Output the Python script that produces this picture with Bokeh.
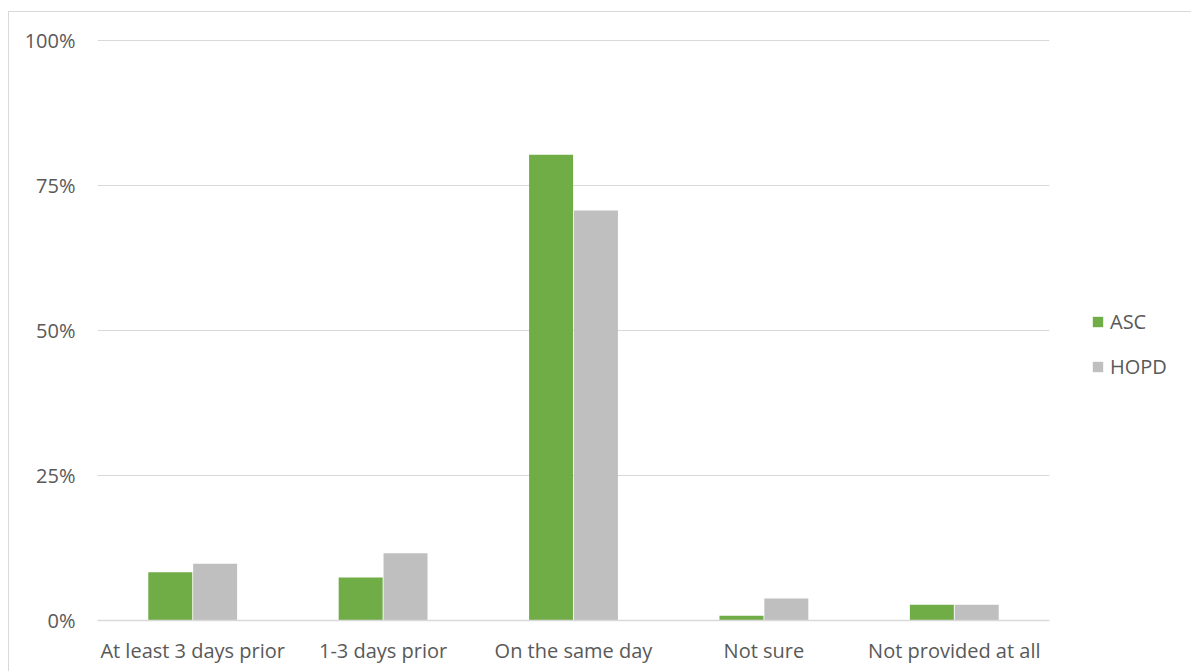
from bokeh.plotting import figure
from bokeh.models import ColumnDataSource, FactorRange, Range1d, Legend, LegendItem, FixedTicker
from bokeh.transform import dodge
from bokeh.embed import file_html
from bokeh.resources import INLINE

categories = ["At least 3 days prior", "1-3 days prior", "On the same day", "Not sure", "Not provided at all"]
asc = [8.3, 7.4, 80.3, 0.8, 2.7]
hopd = [9.8, 11.6, 70.7, 3.8, 2.7]
series_names = ["ASC", "HOPD"]
series_colors = ["#70AD47", "#BFBFBF"]
y_ticks = [0, 25, 50, 75, 100]
y_tick_labels = ["0%", "25%", "50%", "75%", "100%"]

FONT = "Open Sans"
TXT = "#595959"
GRID = "#D9D9D9"

source = ColumnDataSource(dict(cat=categories, ASC=asc, HOPD=hopd))

p = figure(
    x_range=FactorRange(factors=categories, range_padding=0),
    y_range=Range1d(0, 100.35),
    width=1183, height=660,
    frame_width=952, frame_height=582,
    min_border_left=88, min_border_top=26, min_border_bottom=51, min_border_right=143,
    output_backend="svg", toolbar_location=None,
    margin=(11, 0, 0, 8),
    styles={"border-left": "1px solid #D9D9D9", "border-top": "1px solid #D9D9D9"},
)
p.outline_line_color = None

r1 = p.vbar(x=dodge("cat", -0.1178, range=p.x_range), top="ASC", width=0.231,
            source=source, fill_color=series_colors[0], line_color=None)
r2 = p.vbar(x=dodge("cat", 0.1178, range=p.x_range), top="HOPD", width=0.231,
            source=source, fill_color=series_colors[1], line_color=None)

p.yaxis.ticker = FixedTicker(ticks=y_ticks)
p.yaxis.major_label_overrides = {t: l for t, l in zip(y_ticks, y_tick_labels)}
p.yaxis.axis_line_color = None
p.yaxis.major_tick_line_color = None
p.yaxis.minor_tick_line_color = None
p.yaxis.major_label_standoff = 16

p.xaxis.axis_line_color = GRID
p.xaxis.axis_line_width = 1.5
p.xaxis.major_tick_line_color = None
p.xaxis.minor_tick_line_color = None
p.xaxis.major_label_standoff = 10

for ax in (p.xaxis, p.yaxis):
    ax.major_label_text_font = FONT
    ax.major_label_text_font_size = "20px"
    ax.major_label_text_color = TXT

p.xgrid.grid_line_color = None
p.ygrid.grid_line_color = GRID
p.ygrid.grid_line_width = 1.2

legend = Legend(
    items=[LegendItem(label=series_names[0], renderers=[r1]),
           LegendItem(label=series_names[1], renderers=[r2])],
    location=(42, 240),
    glyph_width=13, glyph_height=13, label_height=20, spacing=18,
    padding=0, margin=0, border_line_color=None, background_fill_alpha=0,
    label_text_font=FONT, label_text_font_size="20px", label_text_color=TXT,
    label_standoff=6,
)
p.add_layout(legend, "right")

open("out.html", "w").write(file_html(p, INLINE))
